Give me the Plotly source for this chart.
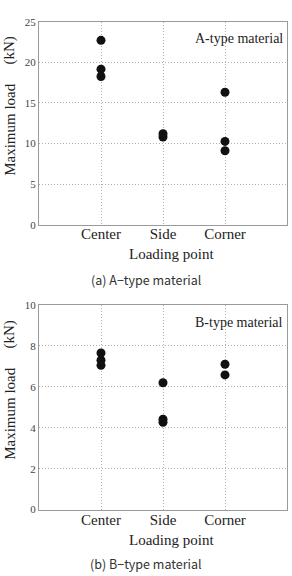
import plotly.graph_objects as go

categories = ["Center", "Side", "Corner"]
cat_pos = [1, 2, 3]

# A-type material: maximum load (kN) per loading point
a_center = [22.7, 19.15, 18.25]
a_side = [11.2, 10.8]
a_corner = [16.3, 10.25, 9.1]

# B-type material
b_center = [7.65, 7.3, 7.05]
b_side = [6.2, 4.42, 4.27]
b_corner = [7.1, 6.58]

a_ticks = [0, 5, 10, 15, 20, 25]
b_ticks = [0, 2, 4, 6, 8, 10]

W, H = 292, 576
fig = go.Figure()

def px_y(p):
    return 1 - p / H

def px_x(p):
    return p / W

serif = "Liberation Serif"
marker = dict(color="#111111", size=9)

def add_panel(idx, center, side, corner):
    xs, ys = [], []
    for pos, vals in zip(cat_pos, [center, side, corner]):
        xs += [pos] * len(vals)
        ys += vals
    fig.add_trace(go.Scatter(x=xs, y=ys, mode="markers", marker=marker,
                             xaxis="x" if idx == 1 else "x2",
                             yaxis="y" if idx == 1 else "y2",
                             showlegend=False, hoverinfo="y"))

add_panel(1, a_center, a_side, a_corner)
add_panel(2, b_center, b_side, b_corner)

xdom = [px_x(39), px_x(287)]
axis_common = dict(showline=True, mirror=True, linecolor="#9a9a9a", linewidth=1,
                   showgrid=True, gridcolor="#b0b0b0", griddash="1px,2px", gridwidth=1,
                   zeroline=False, ticks="")
xtick = dict(family=serif, size=15, color="#222")
ytick = dict(family=serif, size=11, color="#444")

fig.update_layout(
    width=W, height=H, margin=dict(l=0, r=0, t=0, b=0),
    paper_bgcolor="white", plot_bgcolor="white",
    xaxis=dict(domain=xdom, range=[0, 4], anchor="y", tickvals=cat_pos, ticktext=categories,
               tickfont=xtick, ticklabelstandoff=-5, **axis_common),
    yaxis=dict(domain=[px_y(223.3), px_y(16)], range=[0, 25], anchor="x", tickvals=a_ticks,
               tickfont=ytick, **axis_common),
    xaxis2=dict(domain=xdom, range=[0, 4], anchor="y2", tickvals=cat_pos, ticktext=categories,
                tickfont=xtick, ticklabelstandoff=-4, **axis_common),
    yaxis2=dict(domain=[px_y(514.3), px_y(305.3)], range=[0, 10], anchor="x2", tickvals=b_ticks,
                tickfont=ytick, **axis_common),
)

ann = []
def text(x, y, s, size, family=serif, color="#222", angle=0, xanchor="center"):
    ann.append(dict(x=px_x(x), y=px_y(y), xref="paper", yref="paper", text=s, showarrow=False,
                    font=dict(family=family, size=size, color=color), textangle=angle,
                    xanchor=xanchor, yanchor="middle"))

for off, mat, cap in [(0, "A-type material", "(a) A\u2212type material"),
                      (290, "B-type material", "(b) B\u2212type material")]:
    text(285, off + 33, mat, 14, xanchor="right")
    text(171, off + 253 + (off and 2), "Loading point", 15)
    text(10, off + 126.5, "Maximum load", 15, angle=-90)
    text(10, off + 45.5, "(kN)", 15, angle=-90)
    text(146, off + 279, cap, 12.5, family="Noto Sans CJK KR", color="#333")

fig.update_layout(annotations=ann)
fig.write_html("out.html")
